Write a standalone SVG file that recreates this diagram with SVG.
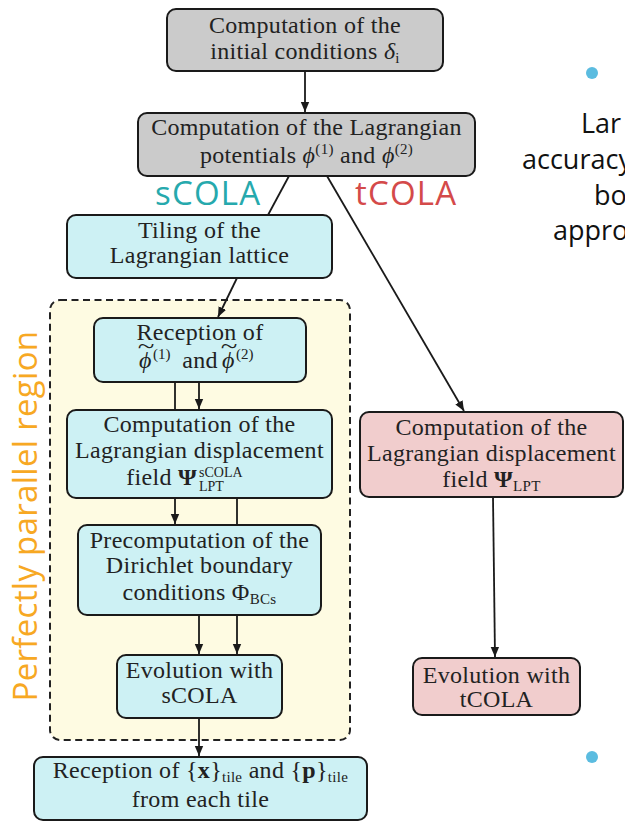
<svg xmlns="http://www.w3.org/2000/svg" width="625" height="822" viewBox="0 0 625 822">
<defs>
<marker id="ah" viewBox="0 0 10 10" refX="10" refY="5" markerWidth="10" markerHeight="10" markerUnits="userSpaceOnUse" orient="auto">
<path d="M0,0.8 L10,5 L0,9.2 Z" fill="#1a1a1a"/>
</marker>
<style>
.box{stroke:#1a1a1a;stroke-width:2}
.gray{fill:#cbcbcb}
.cyan{fill:#cdf1f4}
.pink{fill:#f1cdcd}
.t{font-family:"Liberation Serif","Times New Roman",serif;font-size:24px;fill:#222;text-anchor:middle;letter-spacing:0.3px}
.ts{font-family:"Liberation Serif","Times New Roman",serif;font-size:14px;fill:#222;letter-spacing:0}
.ta{font-family:"Liberation Serif","Times New Roman",serif;font-size:24px;fill:#222}
.sup{font-family:"Liberation Serif","Times New Roman",serif;font-size:15px;fill:#222}
.tilde{font-family:"Liberation Serif","Times New Roman",serif;font-size:22px;fill:#222;text-anchor:middle}
.i{font-style:italic}
.b{font-weight:bold}
.lbl{font-family:"Open Sans","Noto Sans",sans-serif;font-size:33px;letter-spacing:1.2px}
.slide{font-family:"Open Sans","Noto Sans",sans-serif;font-size:27px;fill:#111}
.conn{stroke:#1a1a1a;stroke-width:1.8;fill:none}
</style>
</defs>
<rect width="625" height="822" fill="#ffffff"/>

<g id="parallel-region">
<rect x="50" y="300" width="300" height="440" rx="10" fill="#fefbe2" stroke="#222" stroke-width="2" stroke-dasharray="7 4.5"/>
<text transform="translate(37,516) rotate(-90)" text-anchor="middle" fill="#f7a823" font-family="'Open Sans','Noto Sans',sans-serif" font-size="33" letter-spacing="0.3">Perfectly parallel region</text>
</g>

<g id="initial-conditions">
<rect class="box gray" x="167" y="9" width="276" height="62" rx="9"/>
<text class="t" x="305" y="33">Computation of the</text>
<text class="t" x="305" y="59">initial conditions <tspan class="i">δ</tspan><tspan font-size="15" dy="4">i</tspan></text>
</g>

<g id="lagrangian-potentials">
<rect class="box gray" x="138" y="113" width="337" height="63" rx="9"/>
<text class="t" x="306.5" y="135">Computation of the Lagrangian</text>
<text class="t" x="306.5" y="163">potentials <tspan class="i">ϕ</tspan><tspan font-size="15" dy="-9">(1)</tspan><tspan dy="9"> and </tspan><tspan class="i">ϕ</tspan><tspan font-size="15" dy="-9">(2)</tspan></text>
</g>

<g id="labels">
<text class="lbl" x="155" y="205" fill="#26a9ad">sCOLA</text>
<text class="lbl" x="355" y="205" fill="#d44a4a">tCOLA</text>
</g>

<g id="tiling">
<rect class="box cyan" x="67" y="215" width="265" height="63" rx="9"/>
<text class="t" x="199.5" y="238">Tiling of the</text>
<text class="t" x="199.5" y="263">Lagrangian lattice</text>
</g>

<g id="reception-potentials">
<rect class="box cyan" x="94" y="318" width="212" height="64" rx="9"/>
<text class="t" x="200" y="340">Reception of</text>
<text class="ta i" x="139" y="368">ϕ</text>
<text class="tilde" transform="translate(146,353) scale(1.4,1)">~</text>
<text class="sup" x="153" y="359">(1)</text>
<text class="t" x="200" y="368">and</text>
<text class="ta i" x="222" y="368">ϕ</text>
<text class="tilde" transform="translate(229,353) scale(1.4,1)">~</text>
<text class="sup" x="236" y="359">(2)</text>
</g>

<g id="displacement-scola">
<rect class="box cyan" x="67" y="410" width="265" height="88" rx="9"/>
<text class="t" x="199.5" y="432">Computation of the</text>
<text class="t" x="199.5" y="458">Lagrangian displacement</text>
<text class="t" x="197" y="485" style="text-anchor:end">field <tspan class="b">Ψ</tspan></text>
<text class="ts" x="199" y="477">sCOLA</text>
<text class="ts" x="199" y="491">LPT</text>
</g>

<g id="dirichlet">
<rect class="box cyan" x="78" y="525" width="243" height="90" rx="9"/>
<text class="t" x="199.5" y="548">Precomputation of the</text>
<text class="t" x="199.5" y="573">Dirichlet boundary</text>
<text class="t" x="199.5" y="600">conditions Φ<tspan font-size="15" dy="4">BCs</tspan></text>
</g>

<g id="evolution-scola">
<rect class="box cyan" x="117" y="655" width="165" height="63" rx="9"/>
<text class="t" x="199.5" y="678">Evolution with</text>
<text class="t" x="199.5" y="703">sCOLA</text>
</g>

<g id="reception-tiles">
<rect class="box cyan" x="34" y="757" width="333" height="63" rx="9"/>
<text class="t" x="200.5" y="778">Reception of {<tspan class="b">x</tspan>}<tspan font-size="15" dy="4">tile</tspan><tspan dy="-4"> and {</tspan><tspan class="b">p</tspan>}<tspan font-size="15" dy="4">tile</tspan></text>
<text class="t" x="200.5" y="807">from each tile</text>
</g>

<g id="displacement-tcola">
<rect class="box pink" x="360" y="412" width="263" height="85" rx="9"/>
<text class="t" x="491.5" y="435">Computation of the</text>
<text class="t" x="491.5" y="461">Lagrangian displacement</text>
<text class="t" x="491.5" y="487">field <tspan class="b">Ψ</tspan><tspan font-size="15" dy="4">LPT</tspan></text>
</g>

<g id="evolution-tcola">
<rect class="box pink" x="413" y="658" width="167" height="57" rx="9"/>
<text class="t" x="496.5" y="683">Evolution with</text>
<text class="t" x="496.5" y="707">tCOLA</text>
</g>

<g id="connectors">
<line class="conn" x1="305" y1="71" x2="305" y2="112" marker-end="url(#ah)"/>
<line class="conn" x1="289" y1="176" x2="268" y2="215"/>
<line class="conn" x1="237" y1="278" x2="218" y2="317" marker-end="url(#ah)"/>
<line class="conn" x1="327" y1="176" x2="464" y2="411" marker-end="url(#ah)"/>
<line class="conn" x1="175" y1="382" x2="175" y2="410"/>
<line class="conn" x1="199" y1="382" x2="199" y2="409" marker-end="url(#ah)"/>
<line class="conn" x1="175" y1="498" x2="175" y2="524" marker-end="url(#ah)"/>
<line class="conn" x1="237" y1="498" x2="237" y2="525"/>
<line class="conn" x1="199" y1="615" x2="199" y2="654" marker-end="url(#ah)"/>
<line class="conn" x1="237" y1="615" x2="237" y2="654" marker-end="url(#ah)"/>
<line class="conn" x1="199" y1="718" x2="199" y2="756" marker-end="url(#ah)"/>
<line class="conn" x1="493" y1="497" x2="495" y2="657" marker-end="url(#ah)"/>
</g>

<g id="slide-text">
<circle cx="592" cy="73" r="6" fill="#5bbce0"/>
<text class="slide" x="581" y="133">Lar</text>
<text class="slide" x="522" y="169">accuracy</text>
<text class="slide" x="594" y="205">bo</text>
<text class="slide" x="553" y="240">appro</text>
<circle cx="592" cy="757" r="6" fill="#5bbce0"/>
</g>
</svg>
